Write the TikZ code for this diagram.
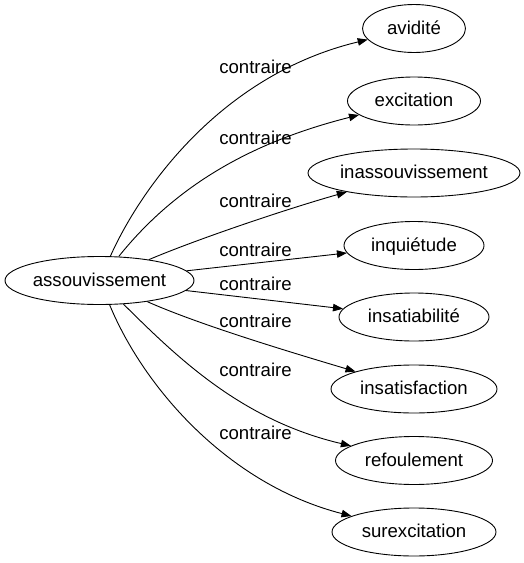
\documentclass[tikz,border=0pt]{standalone}
\usepackage{fontspec}
\setmainfont{Liberation Sans}
\usetikzlibrary{shapes.geometric,arrows.meta}
\begin{document}
\begin{tikzpicture}[x=1pt,y=-1pt,
  every node/.style={font=\fontsize{18.6}{22}\selectfont, text height=13pt, text depth=1.6pt},
  term/.style={draw, ellipse, line width=0.9pt, inner sep=0pt, minimum height=48pt},
  lbl/.style={inner sep=0pt},
  edge/.style={line width=0.9pt, -{Triangle[length=10pt,width=7.5pt]}}]
\useasboundingbox (0,0) rectangle (524,563);
\node[term, minimum width=189pt] (src) at (99.5,280.5) {assouvissement};
\node[term, minimum width=103pt] (t1) at (414,28.5) {avidité};
\node[term, minimum width=133pt] (t2) at (414,101) {excitation};
\node[term, minimum width=212pt] (t3) at (414,173) {inassouvissement};
\node[term, minimum width=140pt] (t4) at (414,245.5) {inquiétude};
\node[term, minimum width=150pt] (t5) at (414,317) {insatiabilité};
\node[term, minimum width=166pt] (t6) at (414,389) {insatisfaction};
\node[term, minimum width=157pt] (t7) at (414,460.5) {refoulement};
\node[term, minimum width=164pt] (t8) at (414,532) {surexcitation};
\draw[edge] (src) .. controls (140,190) and (220,75) .. (t1);
\draw[edge] (src) .. controls (180,180) and (260,140) .. (t2);
\draw[edge] (src) .. controls (200,238) and (290,208) .. (t3);
\draw[edge] (src) -- (t4);
\draw[edge] (src) -- (t5);
\draw[edge] (src) .. controls (200,325) and (290,352) .. (t6);
\draw[edge] (src) .. controls (175,355) and (240,420) .. (t7);
\draw[edge] (src) .. controls (145,390) and (230,485) .. (t8);
\node[lbl] (l1) at (255.5,67.6) {contraire};
\node[lbl] (l2) at (255.5,138.5) {contraire};
\node[lbl] (l3) at (255.5,201.5) {contraire};
\node[lbl] (l4) at (255.5,250.5) {contraire};
\node[lbl] (l5) at (255.5,284.5) {contraire};
\node[lbl] (l6) at (255.5,321.5) {contraire};
\node[lbl] (l7) at (255.5,370.5) {contraire};
\node[lbl] (l8) at (255.5,433.5) {contraire};
\end{tikzpicture}
\end{document}
